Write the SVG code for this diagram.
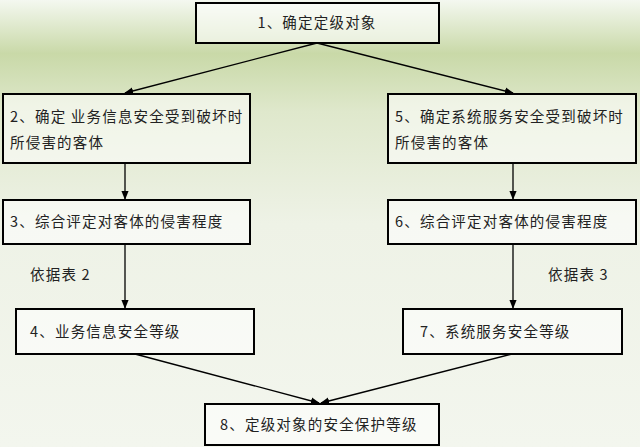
<svg xmlns="http://www.w3.org/2000/svg" width="640" height="447" viewBox="0 0 640 447">
<defs>
<linearGradient id="bg" x1="0" y1="0" x2="0" y2="1">
<stop offset="0" stop-color="#f4f8f0"/>
<stop offset="0.12" stop-color="#c9d9a8"/>
<stop offset="0.25" stop-color="#dfe8cc"/>
<stop offset="0.5" stop-color="#eef2e6"/>
<stop offset="1" stop-color="#f3f6ee"/>
</linearGradient>
<marker id="ah" viewBox="0 0 10 10" refX="9" refY="5" markerWidth="7" markerHeight="7" orient="auto"><path d="M0,1 L10,5 L0,9 z" fill="#000"/></marker>
<style>
.box{fill:#ffffff;fill-opacity:0.55;stroke:#000;stroke-width:2}
text{font-family:"Noto Sans CJK SC","Liberation Serif",serif;font-size:14.5px;letter-spacing:1.2px;fill:#222}
.c{stroke:#000;stroke-width:1.3;fill:none;marker-end:url(#ah)}
</style>
</defs>
<rect width="640" height="447" fill="url(#bg)"/>
<g id="connectors">
<line class="c" x1="317" y1="43" x2="125" y2="93"/>
<line class="c" x1="317" y1="43" x2="513" y2="93"/>
<line class="c" x1="125" y1="163" x2="125" y2="199"/>
<line class="c" x1="513" y1="163" x2="513" y2="199"/>
<line class="c" x1="125" y1="244" x2="125" y2="308"/>
<line class="c" x1="513" y1="244" x2="513" y2="308"/>
<line class="c" x1="135" y1="354" x2="319" y2="403"/>
<line class="c" x1="512" y1="354" x2="321" y2="403"/>
</g>
<g id="n1"><rect class="box" x="196" y="3" width="243" height="40"/><text x="317" y="28" text-anchor="middle">1、确定定级对象</text></g>
<g id="n2"><rect class="box" x="3" y="94" width="247" height="69"/><text x="10" y="122">2、确定 业务信息安全受到破坏时</text><text x="10" y="148">所侵害的客体</text></g>
<g id="n5"><rect class="box" x="388" y="94" width="248" height="69"/><text x="395" y="122">5、确定系统服务安全受到破坏时</text><text x="395" y="148">所侵害的客体</text></g>
<g id="n3"><rect class="box" x="3" y="200" width="247" height="44"/><text x="10" y="227">3、综合评定对客体的侵害程度</text></g>
<g id="n6"><rect class="box" x="388" y="200" width="248" height="44"/><text x="395" y="227">6、综合评定对客体的侵害程度</text></g>
<text x="30" y="280">依据表 2</text>
<text x="548" y="280">依据表 3</text>
<g id="n4"><rect class="box" x="16" y="309" width="238" height="45"/><text x="30" y="337">4、业务信息安全等级</text></g>
<g id="n7"><rect class="box" x="403" y="309" width="219" height="45"/><text x="420" y="337">7、系统服务安全等级</text></g>
<g id="n8"><rect class="box" x="205" y="404" width="234" height="41"/><text x="220" y="430">8、定级对象的安全保护等级</text></g>
</svg>
